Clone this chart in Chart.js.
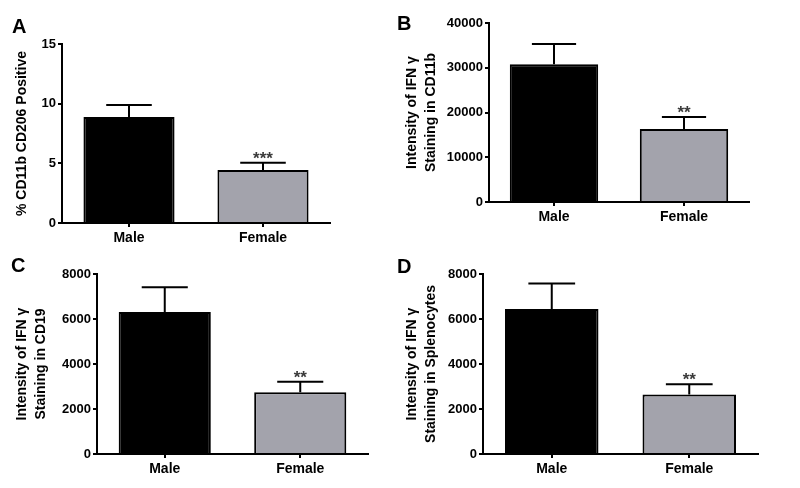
<!DOCTYPE html>
<html>
<head>
<meta charset="utf-8">
<script src="https://cdn.jsdelivr.net/npm/chart.js@4.4.1/dist/chart.umd.min.js"></script>
<style>
  body { margin: 0; background: #fff; }
  #fig { position: relative; width: 800px; height: 488px; font-family: "Liberation Sans", Arial, sans-serif; }
  canvas { position: absolute; }
  .letra { position: absolute; font-weight: bold; font-size: 20px; line-height: 20px; color: #000; }
</style>
</head>
<body>
<div id="fig">
  <canvas id="chartA" width="340" height="244" style="left:0;top:0"></canvas>
  <canvas id="chartB" width="360" height="244" style="left:400px;top:0"></canvas>
  <canvas id="chartC" width="380" height="244" style="left:0;top:244px"></canvas>
  <canvas id="chartD" width="370" height="244" style="left:400px;top:244px"></canvas>
  <div class="letra" style="left:12px;top:16px">A</div>
  <div class="letra" style="left:397px;top:13px">B</div>
  <div class="letra" style="left:11px;top:255px">C</div>
  <div class="letra" style="left:397px;top:256px">D</div>
</div>
<script>
// datos
const categorias = ['Male', 'Female'];

const cd206Media = [8.88, 4.44];
const cd206Error = [1.0, 0.6];
const cd206Marcas = ['', '***'];

const cd11bMedia = [30800, 16300];
const cd11bError = [4500, 2700];
const cd11bMarcas = ['', '**'];

const cd19Media = [6310, 2740];
const cd19Error = [1100, 475];
const cd19Marcas = ['', '**'];

const esplenoMedia = [6440, 2650];
const esplenoError = [1140, 445];
const esplenoMarcas = ['', '**'];

const ejeA = [0, 15, 5];
const ejeB = [0, 40000, 10000];
const ejeCD = [0, 8000, 2000];

const fuente = "'Liberation Sans', Arial, sans-serif";

// barras de error + asteriscos
const errorPlugin = {
  id: 'errorBars',
  afterDatasetsDraw(chart, args, opts) {
    const { ctx, scales: { y } } = chart;
    const meta = chart.getDatasetMeta(0);
    ctx.save();
    ctx.strokeStyle = '#000';
    ctx.lineWidth = 2;
    meta.data.forEach((bar, i) => {
      const v = chart.data.datasets[0].data[i];
      const yBar = y.getPixelForValue(v);
      const yTop = y.getPixelForValue(v + opts.errores[i]);
      const half = bar.width * 0.25;
      ctx.beginPath();
      ctx.moveTo(bar.x, yBar);
      ctx.lineTo(bar.x, yTop);
      ctx.moveTo(bar.x - half, yTop);
      ctx.lineTo(bar.x + half, yTop);
      ctx.stroke();
      if (opts.marcas[i]) {
        ctx.fillStyle = '#3a3a3a';
        ctx.font = 'bold 17px ' + fuente;
        ctx.textAlign = 'center';
        ctx.textBaseline = 'alphabetic';
        ctx.fillText(opts.marcas[i], bar.x, yTop + 1);
      }
    });
    ctx.restore();
  }
};

const crearGrafico = (id, media, errores, marcas, eje, titulo, caja) => {
  const ctx = document.getElementById(id).getContext('2d');
  return new Chart(ctx, {
    type: 'bar',
    data: {
      labels: categorias,
      datasets: [{
        data: media,
        backgroundColor: ['#000000', '#a3a3ac'],
        borderColor: '#000',
        borderWidth: 2,
        categoryPercentage: 1,
        barPercentage: 0.68
      }]
    },
    plugins: [errorPlugin],
    options: {
      responsive: false,
      animation: false,
      layout: { padding: { left: 0, top: caja.top, right: caja.right, bottom: 0 } },
      plugins: {
        legend: { display: false },
        tooltip: { enabled: false },
        errorBars: { errores, marcas }
      },
      scales: {
        x: {
          offset: true,
          afterFit: (s) => { s.height = caja.xh; },
          grid: { display: true, drawOnChartArea: false, offset: false, tickLength: 4, color: '#000', lineWidth: 2 },
          border: { display: true, color: '#000', width: 2 },
          ticks: { color: '#000', padding: 3, font: { family: fuente, size: 14, weight: 'bold' } }
        },
        y: {
          min: eje[0],
          max: eje[1],
          afterFit: (s) => { s.width = caja.yw; },
          ticks: {
            stepSize: eje[2], color: '#000', padding: 2,
            callback: (v) => String(v),
            font: { family: fuente, size: 13, weight: 'bold' }
          },
          grid: { display: true, drawOnChartArea: false, tickLength: 4, color: '#000', lineWidth: 2 },
          border: { display: true, color: '#000', width: 2 },
          title: {
            display: true,
            text: titulo,
            color: '#000',
            padding: { top: caja.tp, bottom: 0 },
            font: { family: fuente, size: 14, weight: 'bold', lineHeight: caja.lh }
          }
        }
      }
    }
  });
};

crearGrafico('chartA', cd206Media, cd206Error, cd206Marcas, ejeA,
  '% CD11b CD206 Positive', { top: 44, right: 10, xh: 21, yw: 62, tp: 14, lh: 1.2 });
crearGrafico('chartB', cd11bMedia, cd11bError, cd11bMarcas, ejeB,
  ['Intensity of IFN γ', 'Staining in CD11b'], { top: 23, right: 11, xh: 42, yw: 89, tp: 2, lh: 1.4 });
crearGrafico('chartC', cd19Media, cd19Error, cd19Marcas, ejeCD,
  ['Intensity of IFN γ', 'Staining in CD19'], { top: 30, right: 12, xh: 34, yw: 97, tp: 12, lh: 1.4 });
crearGrafico('chartD', esplenoMedia, esplenoError, esplenoMarcas, ejeCD,
  ['Intensity of IFN γ', 'Staining in Splenocytes'], { top: 30, right: 12, xh: 34, yw: 83, tp: 2, lh: 1.4 });
</script>
</body>
</html>
